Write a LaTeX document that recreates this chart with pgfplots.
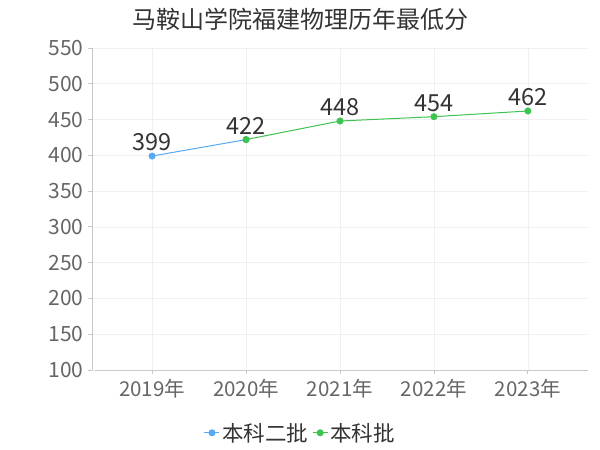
\documentclass[border=0pt]{standalone}
\usepackage{pgfplots}
\pgfplotsset{compat=1.18}
\usepackage{fontspec}
\setmainfont{Noto Sans CJK SC}
\definecolor{ser1}{HTML}{58A9F4}
\definecolor{ser2}{HTML}{3DC34F}
\definecolor{txt}{HTML}{333333}
\definecolor{tck}{HTML}{666666}
\definecolor{axl}{HTML}{C8C8C8}
\definecolor{grd}{HTML}{F0F0F0}
\begin{document}
\begin{tikzpicture}
\useasboundingbox (0,0) rectangle (600pt,450pt);
\begin{axis}[
    at={(92pt,80pt)}, anchor=south west,
    scale only axis,
    width=496pt, height=322pt,
    xmin=-0.64, xmax=4.64,
    ymin=100, ymax=550,
    ytick={100,150,...,550},
    xtick={0,1,2,3,4},
    xticklabels={2019年,2020年,2021年,2022年,2023年},
    /pgf/number format/assume math mode=true,
    axis x line*=bottom, axis y line*=left,
    axis line style={axl, line width=0.8pt, -},
    x axis line style={shorten <=3pt},
    tick style={axl, line width=0.8pt},
    major tick length=4pt,
    tick align=outside,
    grid=major,
    grid style={grd, line width=0.6pt},
    yticklabel style={font=\fontsize{21pt}{22pt}\selectfont, text=tck, xshift=-1pt},
    xticklabel style={font=\fontsize{20.5pt}{22pt}\selectfont, text=tck, yshift=-2pt},
    legend columns=2,
    legend style={at={(0.42,-0.195)}, anchor=center, draw=none, fill=none,
        font=\fontsize{21.5pt}{22pt}\selectfont, text=txt,
        /tikz/every even column/.append style={column sep=2pt}},
    legend image code/.code={
        \draw[#1, line width=1.2pt] (0pt,0pt) -- (15pt,0pt);
        \fill[#1] (7.5pt,0pt) circle (3pt);
    },
    every node near coord/.append style={font=\fontsize{23.5pt}{24pt}\selectfont, text=txt, yshift=1pt},
    clip=false,
]
\addplot[ser1, line width=1pt, mark=*, mark size=3pt,
    nodes near coords, point meta=explicit symbolic]
    coordinates {(0,399) [399] (1,422) [{}]};
\addlegendentry{本科二批}
\addplot[ser2, line width=1pt, mark=*, mark size=3pt,
    nodes near coords, point meta=explicit symbolic]
    coordinates {(1,422) [422] (2,448) [448] (3,454) [454] (4,462) [462]};
\addlegendentry{本科批}
\node[font=\fontsize{24pt}{25pt}\selectfont, text=txt] at (rel axis cs:0.42,1.09) {马鞍山学院福建物理历年最低分};
\end{axis}
\end{tikzpicture}
\end{document}
